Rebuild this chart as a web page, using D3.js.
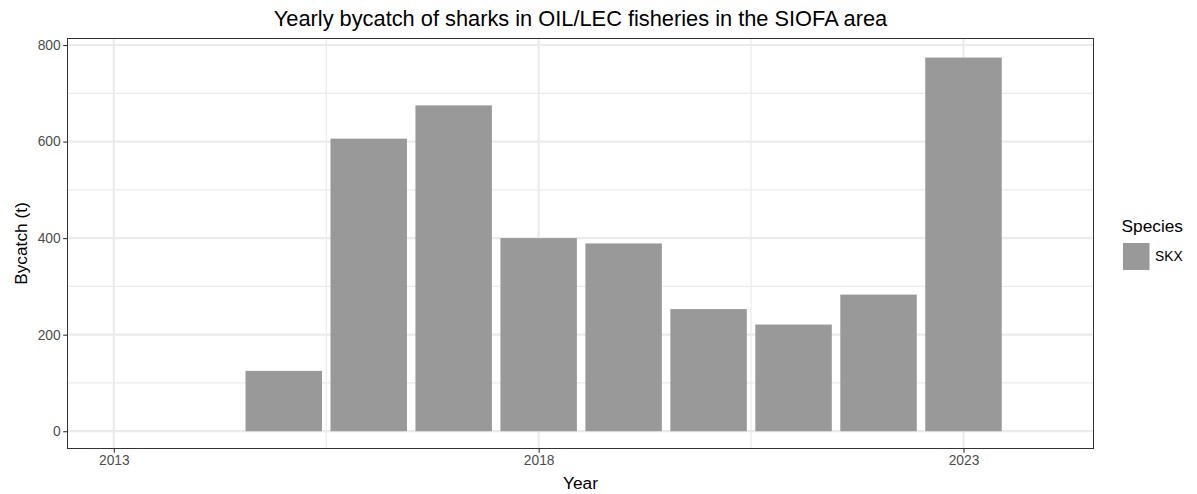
<!DOCTYPE html>
<html><head><meta charset="utf-8">
<script src="https://cdn.jsdelivr.net/npm/d3@7"></script>
<style>body{margin:0;background:#fff}svg{display:block}text{font-family:"Liberation Sans",Arial,Helvetica,sans-serif}</style>
</head><body><svg id="c" width="1197" height="494"></svg>
<script>
const years = [2015, 2016, 2017, 2018, 2019, 2020, 2021, 2022, 2023];
const bycatch = [125, 606, 675, 400, 389, 253, 221, 283, 774];
const xTicks = [2013, 2018, 2023];
const xMinor = [2015.5, 2020.5];
const yTicks = [0, 200, 400, 600, 800];
const yMinor = [100, 300, 500, 700];
const species = ["SKX"];
const title = "Yearly bycatch of sharks in OIL/LEC fisheries in the SIOFA area";

const svg = d3.select("#c");
const L = 67.5, R = 1093.5, T = 38.5, B = 448.5;
const x = d3.scaleLinear().domain([2012.455, 2024.53]).range([L, R]);
const y = d3.scaleLinear().domain([-35.8, 813.5]).range([B, T]);

const g = svg.append("g");
g.selectAll(".ym").data(yMinor).join("line").attr("x1", L).attr("x2", R)
  .attr("y1", d => y(d)).attr("y2", d => y(d)).attr("stroke", "#EBEBEB").attr("stroke-width", 1.2);
g.selectAll(".xm").data(xMinor).join("line").attr("y1", T).attr("y2", B)
  .attr("x1", d => x(d)).attr("x2", d => x(d)).attr("stroke", "#EBEBEB").attr("stroke-width", 1.2);
g.selectAll(".yM").data(yTicks).join("line").attr("x1", L).attr("x2", R)
  .attr("y1", d => y(d)).attr("y2", d => y(d)).attr("stroke", "#EBEBEB").attr("stroke-width", 2.2);
g.selectAll(".xM").data(xTicks).join("line").attr("y1", T).attr("y2", B)
  .attr("x1", d => x(d)).attr("x2", d => x(d)).attr("stroke", "#EBEBEB").attr("stroke-width", 2.2);

const bw = 0.9;
svg.append("g").selectAll("rect").data(years.map((yr, i) => ({yr, v: bycatch[i]})))
  .join("rect")
  .attr("x", d => x(d.yr - bw / 2)).attr("width", d => x(d.yr + bw / 2) - x(d.yr - bw / 2))
  .attr("y", d => y(d.v)).attr("height", d => y(0) - y(d.v))
  .attr("fill", "#999999");

svg.append("rect").attr("x", L).attr("y", T).attr("width", R - L).attr("height", B - T)
  .attr("fill", "none").attr("stroke", "#333333").attr("stroke-width", 1);

const xa = svg.append("g").attr("transform", `translate(0,${B})`)
  .call(d3.axisBottom(x).tickValues(xTicks).tickFormat(d3.format("d")).tickSize(4.3).tickPadding(2.5));
const ya = svg.append("g").attr("transform", `translate(${L},0)`)
  .call(d3.axisLeft(y).tickValues(yTicks).tickSize(4.3).tickPadding(2.5));
[xa, ya].forEach(a => {
  a.select(".domain").remove();
  a.selectAll(".tick line").attr("stroke", "#333333").attr("stroke-width", 1.1);
  a.selectAll(".tick text").attr("fill", "#4D4D4D").style("font-size", "13.8px");
});

svg.append("text").attr("x", (L + R) / 2).attr("y", 25.5).attr("text-anchor", "middle")
  .style("font-size", "21.8px").attr("fill", "#000").text(title);
svg.append("text").attr("x", (L + R) / 2).attr("y", 489).attr("text-anchor", "middle")
  .style("font-size", "17.3px").attr("fill", "#000").text("Year");
svg.append("text").attr("transform", `translate(27,${(T + B) / 2}) rotate(-90)`).attr("text-anchor", "middle")
  .style("font-size", "17.3px").attr("fill", "#000").text("Bycatch (t)");

const lg = svg.append("g");
lg.append("text").attr("x", 1121.5).attr("y", 232).style("font-size", "17.3px").attr("fill", "#000").text("Species");
species.forEach((s, i) => {
  lg.append("rect").attr("x", 1123).attr("y", 243 + i * 28).attr("width", 26.5).attr("height", 27).attr("fill", "#999999");
  lg.append("text").attr("x", 1155).attr("y", 256.5 + i * 28).attr("dy", "0.35em")
    .style("font-size", "13.8px").attr("fill", "#000").text(s);
});
</script></body></html>
